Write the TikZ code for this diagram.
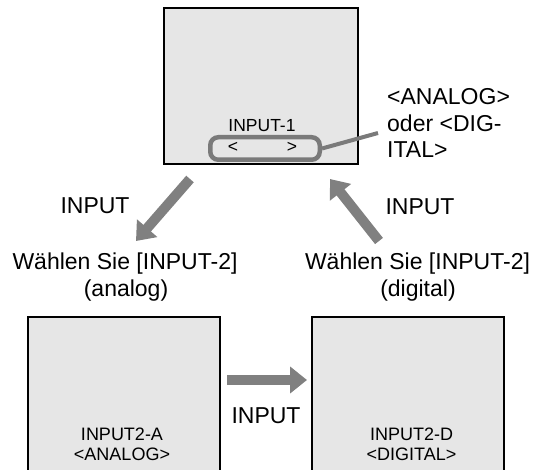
\documentclass[tikz,border=0pt]{standalone}
\usepackage{fontspec}
\setmainfont{Liberation Sans}
\usetikzlibrary{arrows.meta}
\definecolor{scr}{HTML}{E6E6E6}
\definecolor{arr}{HTML}{808080}
\definecolor{sel}{HTML}{7A7A7A}
\begin{document}
\begin{tikzpicture}[x=1pt,y=-1pt,
  screen/.style={draw=black,fill=scr,line width=1.4pt,inner sep=0pt},
  bigarrow/.style={draw=arr,line width=10pt,-{Triangle[length=17pt,width=26pt]}},
  lbl/.style={font=\fontsize{23}{27}\selectfont,inner sep=0pt,anchor=base},
  small/.style={font=\fontsize{17.5}{20}\selectfont,inner sep=0pt,anchor=base}]
\useasboundingbox (0,0) rectangle (537,470);
% top screen
\node[screen,minimum width=194pt,minimum height=156pt] (top) at (261,86) {};
\node[small] (in1) at (262,132) {INPUT-1};
\node[draw=sel,line width=4.5pt,rounded corners=8pt,minimum width=109.5pt,minimum height=22.5pt,inner sep=0pt] (sel) at (265,148.5) {};
\node[small] (lt) at (233,153) {<};
\node[small] (gt) at (292,153) {>};
\node[lbl,anchor=base west,align=left,font=\fontsize{23}{26.5}\selectfont] (opt) at (387,158) {<ANALOG>\\oder <DIG-\\ITAL>};
\coordinate (leadend) at (378,133);
\draw[sel,line width=4pt] (sel.east) -- (leadend);
% bottom screens
\node[screen,minimum width=192pt,minimum height=170pt] (boxa) at (124,402) {};
\node[screen,minimum width=192pt,minimum height=170pt] (boxd) at (408,402) {};
\node[small,font=\fontsize{18}{20}\selectfont] (a1) at (122,440) {INPUT2-A};
\node[small,font=\fontsize{18}{20}\selectfont] (a2) at (122,460) {<ANALOG>};
\node[small,font=\fontsize{18}{20}\selectfont] (d1) at (411.5,440) {INPUT2-D};
\node[small,font=\fontsize{18}{20}\selectfont] (d2) at (411.5,460) {<DIGITAL>};
% arrows
\coordinate (a1s) at (190,179);
\coordinate (a1e) at (136,241);
\coordinate (a2s) at (379,241);
\coordinate (a2e) at (330,179);
\coordinate (a3s) at (227,380);
\coordinate (a3e) at (307,380);
\draw[bigarrow] (a1s) -- (a1e);
\draw[bigarrow] (a2s) -- (a2e);
\draw[bigarrow] (a3s) -- (a3e);
% labels
\node[lbl] (l1) at (95,213) {INPUT};
\node[lbl] (l2) at (420,214) {INPUT};
\node[lbl] (l3) at (266,423) {INPUT};
\node[lbl] (w1) at (125,269) {Wählen Sie [INPUT-2]};
\node[lbl] (w1b) at (126,296) {(analog)};
\node[lbl] (w2) at (417.5,269) {Wählen Sie [INPUT-2]};
\node[lbl] (w2b) at (418,296) {(digital)};
\end{tikzpicture}
\end{document}
